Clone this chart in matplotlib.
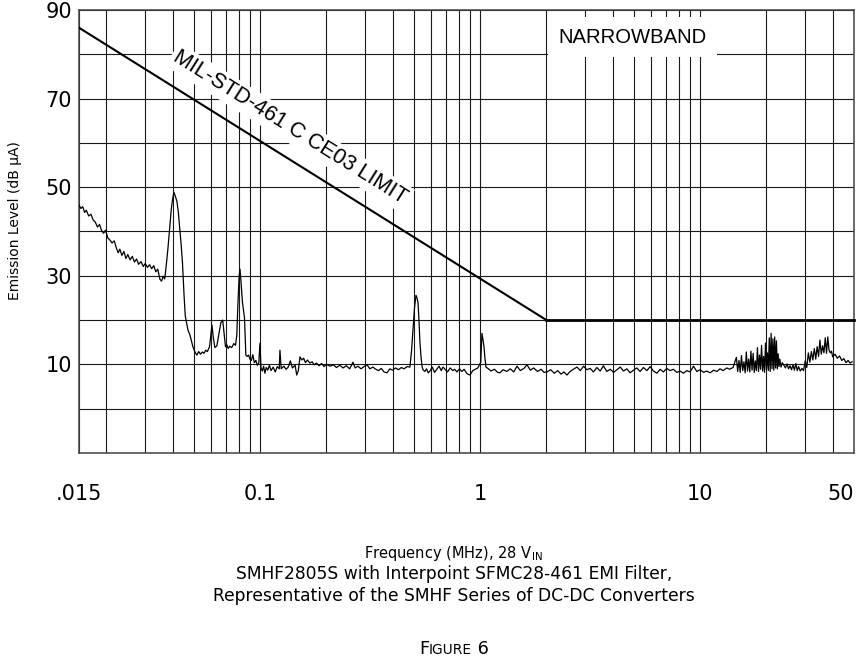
import numpy as np
import matplotlib
matplotlib.use("Agg")
import matplotlib.pyplot as plt
from matplotlib.ticker import FixedLocator, FixedFormatter, NullFormatter

# Emission trace (MHz, dB uA)
freq_mhz = [
    0.0150, 0.0153, 0.0156, 0.0159, 0.0162, 0.0166, 0.0170, 0.0174, 0.0178, 0.0182,
    0.0186, 0.0190, 0.0194, 0.0198, 0.0203, 0.0208, 0.0212, 0.0217, 0.0222, 0.0226,
    0.0230, 0.0235, 0.0240, 0.0245, 0.0250, 0.0256, 0.0262, 0.0268, 0.0274, 0.0280,
    0.0287, 0.0294, 0.0300, 0.0307, 0.0314, 0.0321, 0.0328, 0.0335, 0.0342, 0.0350,
    0.0356, 0.0362, 0.0368, 0.0375, 0.0381, 0.0388, 0.0394, 0.0400, 0.0405, 0.0411,
    0.0418, 0.0424, 0.0430, 0.0437, 0.0443, 0.0450, 0.0456, 0.0462, 0.0469, 0.0480,
    0.0494, 0.0505, 0.0515, 0.0525, 0.0535, 0.0545, 0.0555, 0.0565, 0.0575, 0.0588,
    0.0596, 0.0603, 0.0612, 0.0622, 0.0635, 0.0648, 0.0662, 0.0675, 0.0685, 0.0695,
    0.0705, 0.0715, 0.0727, 0.0742, 0.0758, 0.0772, 0.0782, 0.0792, 0.0802, 0.0809,
    0.0818, 0.0830, 0.0848, 0.0860, 0.0872, 0.0885, 0.0898, 0.0912, 0.0925, 0.0940,
    0.0955, 0.0970, 0.0985, 0.0997, 0.1008, 0.1022, 0.1036, 0.1050, 0.1065, 0.1082,
    0.1100, 0.1120, 0.1145, 0.1170, 0.1195, 0.1220, 0.1229, 0.1245, 0.1280, 0.1310,
    0.1340, 0.1370, 0.1400, 0.1440, 0.1465, 0.1490, 0.1515, 0.1545, 0.1575, 0.1605,
    0.1640, 0.1680, 0.1720, 0.1760, 0.1800, 0.1850, 0.1900, 0.1950, 0.2000, 0.2075,
    0.2150, 0.2220, 0.2300, 0.2380, 0.2460, 0.2550, 0.2640, 0.2700, 0.2780, 0.2870,
    0.2960, 0.3060, 0.3150, 0.3250, 0.3350, 0.3450, 0.3550, 0.3650, 0.3770, 0.3880,
    0.4000, 0.4120, 0.4250, 0.4380, 0.4500, 0.4650, 0.4790, 0.4870, 0.4946, 0.5030,
    0.5104, 0.5160, 0.5212, 0.5266, 0.5320, 0.5380, 0.5440, 0.5493, 0.5600, 0.5700,
    0.5800, 0.5908, 0.6050, 0.6200, 0.6350, 0.6500, 0.6650, 0.6771, 0.6950, 0.7100,
    0.7300, 0.7500, 0.7650, 0.7839, 0.8050, 0.8250, 0.8450, 0.8700, 0.8982, 0.9250,
    0.9500, 0.9750, 1.005, 1.018, 1.030, 1.040, 1.050, 1.062, 1.090, 1.120,
    1.160, 1.200, 1.229, 1.270, 1.320, 1.370, 1.420, 1.470, 1.520, 1.580,
    1.631, 1.690, 1.750, 1.820, 1.890, 1.950, 2.011, 2.090, 2.170, 2.250,
    2.330, 2.400, 2.479, 2.560, 2.650, 2.753, 2.850, 2.950, 3.050, 3.160,
    3.270, 3.390, 3.510, 3.630, 3.760, 3.900, 4.040, 4.180, 4.330, 4.480,
    4.640, 4.800, 4.970, 5.150, 5.330, 5.520, 5.720, 5.920, 6.130, 6.350,
    6.570, 6.800, 7.040, 7.290, 7.550, 7.820, 8.100, 8.390, 8.690, 9.000,
    9.320, 9.650, 9.990, 10.35, 10.70, 11.10, 11.50, 11.90, 12.30, 12.70,
    13.20, 13.60, 14.10, 14.60, 14.80, 15.00, 15.20, 15.40, 15.60, 15.80,
    16.00, 16.20, 16.40, 16.60, 16.80, 17.00, 17.20, 17.40, 17.60, 17.80,
    18.00, 18.20, 18.40, 18.60, 18.80, 19.00, 19.20, 19.40, 19.60, 19.80,
    20.00, 20.20, 20.40, 20.60, 20.80, 21.00, 21.20, 21.40, 21.60, 21.80,
    22.00, 22.20, 22.40, 22.60, 22.80, 23.00, 23.30, 23.60, 24.00, 24.40,
    24.80, 25.20, 25.60, 26.00, 26.40, 26.80, 27.20, 27.60, 28.00, 28.50,
    29.00, 29.50, 30.00, 30.50, 31.00, 31.50, 32.00, 32.50, 33.00, 33.50,
    34.00, 34.50, 35.00, 35.50, 36.00, 36.50, 37.00, 37.50, 38.00, 38.50,
    39.00, 39.50, 40.00, 41.00, 42.00, 43.00, 44.00, 45.00, 46.00, 47.00,
    48.00, 49.00,
]
level_dbua = [
    46.0, 45.2, 45.6, 44.3, 44.8, 43.5, 43.9, 42.6, 42.1, 41.0,
    41.6, 40.2, 39.6, 40.3, 38.5, 38.0, 37.4, 37.9, 36.2, 35.2,
    36.0, 34.6, 35.5, 33.9, 34.8, 33.6, 34.4, 33.1, 33.8, 32.6,
    33.2, 32.1, 32.8, 31.9, 32.5, 31.6, 32.3, 30.9, 31.5, 29.2,
    28.8, 29.9, 29.3, 33.0, 36.5, 41.0, 45.0, 47.5, 48.8, 48.0,
    46.8, 44.5, 41.0, 37.0, 33.0, 26.0, 21.0, 19.5, 17.8, 16.5,
    14.0, 12.8, 12.1, 12.9, 12.3, 12.8, 12.5, 13.2, 12.9, 14.0,
    16.5, 18.9, 16.0, 13.8, 14.2, 16.8, 19.4, 20.0, 17.0, 14.0,
    14.4, 13.6, 14.1, 13.8, 14.7, 14.3, 16.5, 24.0, 30.0, 31.5,
    28.5, 24.0, 20.5, 12.1, 11.8, 12.1, 11.2, 10.9, 12.2, 10.4,
    10.9, 9.8, 10.3, 14.8, 9.2, 8.5, 9.6, 8.0, 9.3, 8.7,
    9.8, 8.6, 9.4, 8.3, 9.5, 9.0, 13.2, 9.0, 9.6, 8.9,
    9.4, 10.8, 9.2, 9.8, 7.6, 8.6, 11.7, 11.0, 11.4, 10.4,
    11.0, 10.3, 10.6, 9.9, 10.3, 9.7, 10.2, 9.5, 10.0, 9.6,
    9.9, 9.3, 9.8, 9.2, 9.7, 9.0, 10.5, 9.2, 9.6, 9.0,
    9.5, 9.9, 9.0, 9.4, 8.9, 8.6, 9.1, 8.3, 8.1, 9.0,
    8.7, 9.2, 8.8, 9.3, 9.0, 9.5, 9.4, 13.0, 17.8, 23.0,
    25.6, 25.0, 24.0, 20.0, 15.0, 11.7, 9.5, 8.8, 8.4, 9.0,
    8.1, 8.5, 9.4, 8.2, 8.9, 9.6, 8.6, 9.4, 8.8, 8.3,
    9.2, 8.6, 8.9, 8.3, 9.0, 8.4, 8.9, 7.9, 7.6, 8.6,
    8.9, 9.2, 10.5, 17.0, 15.5, 14.0, 11.5, 9.4, 9.0, 8.5,
    8.9, 8.2, 8.1, 8.8, 8.4, 9.0, 8.3, 9.6, 8.6, 9.1,
    9.9, 8.7, 9.2, 8.4, 8.9, 8.2, 8.3, 8.8, 8.0, 8.6,
    7.8, 8.3, 7.6, 8.4, 8.9, 9.4, 8.6, 9.6, 8.8, 9.1,
    8.3, 9.3, 8.5, 9.7, 8.4, 8.9, 8.2, 8.8, 9.4, 8.5,
    9.0, 8.1, 8.7, 9.2, 8.4, 9.3, 8.6, 9.5, 8.5, 8.0,
    8.9, 8.3, 9.1, 8.6, 8.9, 8.2, 8.5, 8.0, 8.6, 8.3,
    9.6, 8.4, 8.8, 8.2, 8.5, 8.1, 8.7, 8.4, 9.0, 8.6,
    9.2, 8.9, 9.3, 11.6, 8.4, 10.9, 8.2, 12.0, 8.6, 10.6,
    8.1, 12.8, 8.5, 11.2, 8.3, 13.0, 8.7, 12.5, 8.2, 10.8,
    8.6, 13.8, 8.4, 12.1, 8.9, 14.3, 8.5, 11.8, 8.2, 14.8,
    8.8, 12.6, 8.6, 16.0, 8.4, 17.0, 9.0, 15.8, 8.7, 16.2,
    9.2, 15.3, 9.0, 12.4, 9.5, 11.2, 9.4, 10.4, 9.8, 9.2,
    10.1, 9.0, 9.7, 8.8, 9.9, 8.7, 10.2, 8.6, 9.5, 8.5,
    9.1, 8.6, 10.8, 9.3, 12.6, 10.5, 12.9, 11.0, 13.6, 11.2,
    14.0, 11.8, 15.5, 12.3, 14.2, 12.6, 16.0, 12.5, 16.2, 13.2,
    12.6, 13.0, 11.7, 12.3, 11.4, 11.9, 10.9, 11.3, 10.4, 10.9,
    10.3, 10.6,
]

# MIL-STD-461C CE03 narrowband limit
limit_freq = [0.015, 2.0, 50.0]
limit_level = [86.0, 20.0, 20.0]

x_ticks = [0.015, 0.1, 1, 10, 50]
x_tick_labels = [".015", "0.1", "1", "10", "50"]
x_grid = [0.02, 0.03, 0.04, 0.05, 0.06, 0.07, 0.08, 0.09,
          0.2, 0.3, 0.4, 0.5, 0.6, 0.7, 0.8, 0.9,
          2, 3, 4, 5, 6, 7, 8, 9, 20, 30, 40]
y_ticks = [10, 30, 50, 70, 90]
y_grid = [0, 20, 40, 60, 80]

W, H = 866, 658
fig = plt.figure(figsize=(W / 100, H / 100), dpi=100)
ax = fig.add_axes([79 / W, 1 - 453 / H, 775 / W, 443 / H])

ax.set_xscale("log")
ax.set_xlim(0.015, 50)
ax.set_ylim(-10, 90)

ax.xaxis.set_major_locator(FixedLocator(x_ticks))
ax.xaxis.set_major_formatter(FixedFormatter(x_tick_labels))
ax.xaxis.set_minor_locator(FixedLocator(x_grid))
ax.xaxis.set_minor_formatter(NullFormatter())
ax.set_yticks(y_ticks)
ax.set_yticks(y_grid, minor=True)
ax.tick_params(which="both", length=0)
ax.tick_params(axis="x", pad=22, labelsize=15)
ax.tick_params(axis="y", pad=5, labelsize=15)
ax.grid(True, which="both", color="#1a1a1a", lw=0.8)
ax.set_axisbelow(True)
for s in ax.spines.values():
    s.set_color("#444444")
    s.set_linewidth(1.1)

# trace and limit
ax.plot(freq_mhz, level_dbua, color="black", lw=0.9, zorder=3)
ax.plot(limit_freq[:2], limit_level[:2], color="black", lw=1.5, zorder=3)
ax.plot(limit_freq[1:], limit_level[1:], color="black", lw=2.0, zorder=3, clip_on=False)

# label along the sloped limit line
p1 = ax.transData.transform((limit_freq[0], limit_level[0]))
p2 = ax.transData.transform((limit_freq[1], limit_level[1]))
ang = np.arctan2(p2[1] - p1[1], p2[0] - p1[0])
f_lab = 0.1174
y_lab = np.interp(np.log10(f_lab), np.log10(limit_freq), limit_level)
off = 19.5
ax.annotate("MIL-STD-461 C CE03 LIMIT", xy=(f_lab, y_lab),
            xytext=(-np.sin(ang) * off, np.cos(ang) * off), textcoords="offset points",
            rotation=np.degrees(ang), rotation_mode="anchor", ha="center", va="center",
            fontsize=15.5, family="Liberation Sans", zorder=4,
            bbox=dict(boxstyle="square,pad=0.15", fc="white", ec="none"))

ax.text(2.26, 83.9, "NARROWBAND", fontsize=14.6, family="Liberation Sans",
        ha="left", va="center", zorder=4,
        bbox=dict(boxstyle="square,pad=0.5", fc="white", ec="none"))

ax.set_ylabel("Emission Level (dB µA)", fontsize=10)
ax.yaxis.set_label_coords(-0.074, 0.524)

ax.get_xticklabels()[-1].set_ha("right")

# captions under the chart
cx = 0.524
fig.text(cx, 1 - 558 / H, r"Frequency (MHz), 28 V$_{\mathrm{IN}}$", fontsize=10.5,
         ha="center", va="baseline")
fig.text(cx, 1 - 579 / H, "SMHF2805S with Interpoint SFMC28-461 EMI Filter,",
         fontsize=12.3, ha="center", va="baseline")
fig.text(cx, 1 - 601 / H, "Representative of the SMHF Series of DC-DC Converters",
         fontsize=12.3, ha="center", va="baseline")

# "FIGURE 6" in small caps
renderer = fig.canvas.get_renderer()
parts = [("F", 12.8), ("IGURE", 9.9), (" 6", 12.8)]
texts = [fig.text(0, 1 - 654 / H, s, fontsize=fs, ha="left", va="baseline") for s, fs in parts]
widths = [t.get_window_extent(renderer).width / W for t in texts]
x0 = cx - sum(widths) / 2
for t, w in zip(texts, widths):
    t.set_x(x0)
    x0 += w

fig.savefig("out.png", dpi=100)
